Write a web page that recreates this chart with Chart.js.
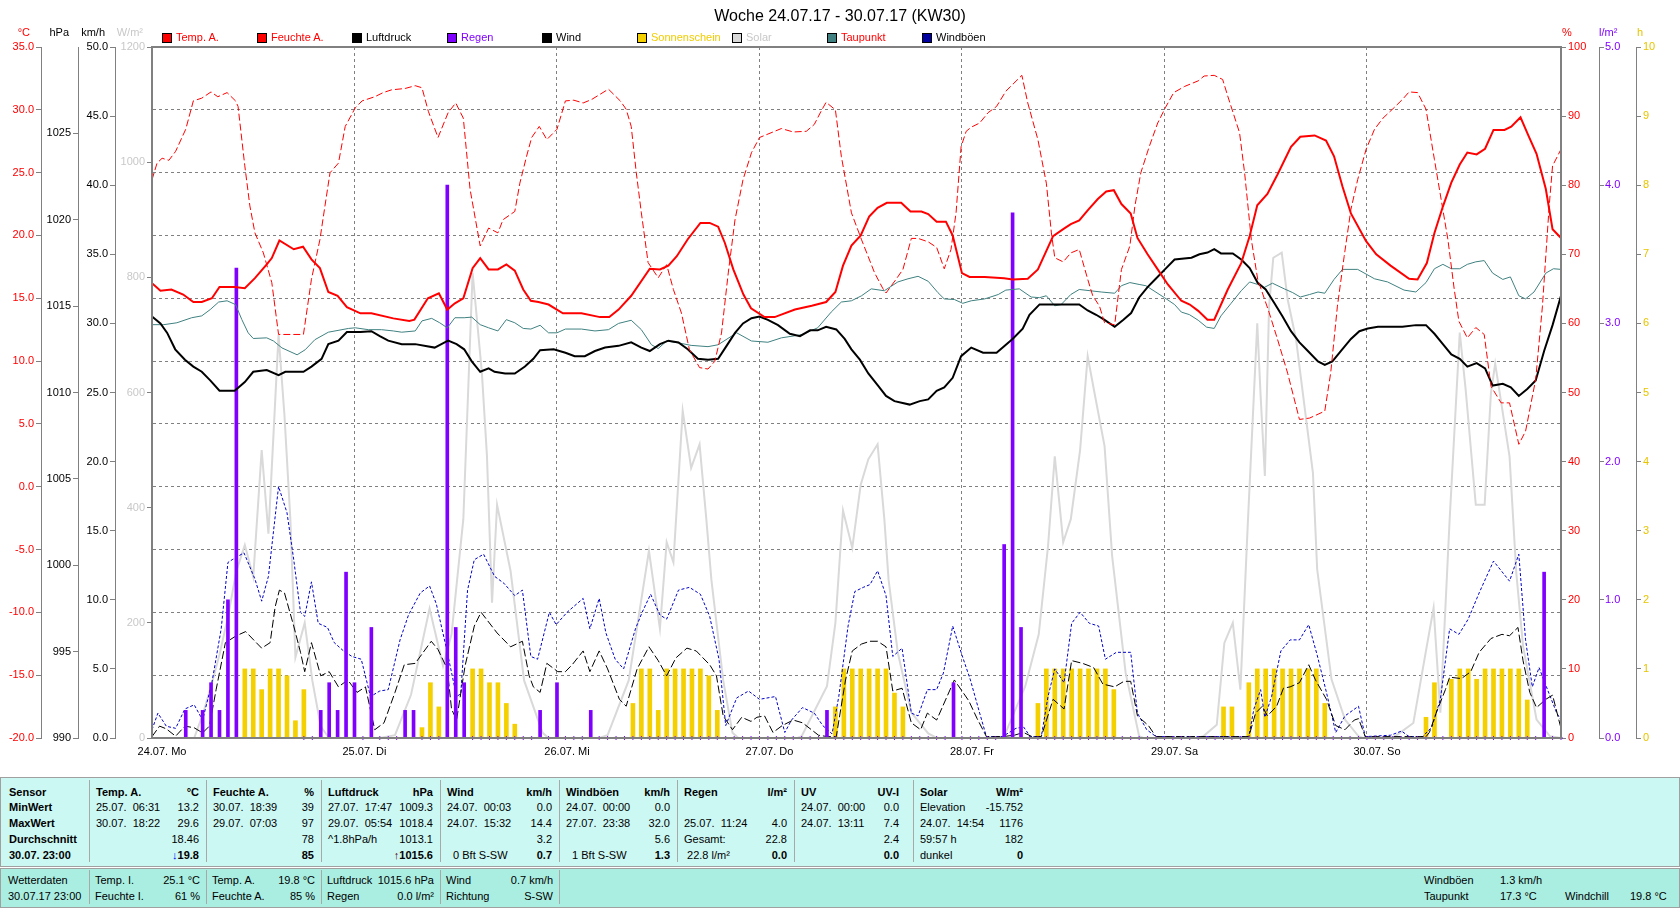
<!DOCTYPE html>
<html><head><meta charset="utf-8">
<script src="https://cdn.jsdelivr.net/npm/chart.js@4.4.1/dist/chart.umd.min.js"></script>
<style>
html,body{margin:0;padding:0;background:#fff;}
body{width:1680px;height:909px;overflow:hidden;position:relative;font-family:"Liberation Sans",Arial,sans-serif;font-size:11px;color:#000;}
#wrap{position:absolute;left:0;top:0;width:1680px;height:760px;}
.abs{position:absolute;white-space:pre;line-height:13px;}
.box{position:absolute;width:8px;height:8px;border:1px solid #000;}
.panel{position:absolute;left:0;width:1678px;border:1px solid #a0a0a0;}
.sep{position:absolute;width:1px;background:#a8a8a8;}
b{font-weight:bold;}
</style></head>
<body>
<div id="wrap"><canvas id="c" width="1680" height="760" style="width:1680px;height:760px"></canvas></div>
<div class="abs" id="title" style="left:0;width:1680px;top:7px;text-align:center;font-size:16px;line-height:18px;">Woche 24.07.17 - 30.07.17 (KW30)</div>
<div id="overlay"></div>
<script>
// ---------------- data (hour since 24.07. 00:00, value) ----------------
const dayLabels = ['24.07. Mo','25.07. Di','26.07. Mi','27.07. Do','28.07. Fr','29.07. Sa','30.07. So'];

const tempA = [[0,16.2],[1,15.6],[2.3,15.7],[3.7,15.3],[4.9,14.7],[5.9,14.7],[7.1,15.0],[8,15.9],[9.8,15.9],[11,15.8],[12.2,16.6],[13.6,17.7],[14.2,18.2],[15.1,19.6],[16.8,18.9],[17.9,19.1],[18.9,18.1],[19.9,17.4],[20.9,15.5],[22,15.2],[23.1,14.3],[24.7,13.8],[26,13.8],[28.6,13.4],[30.5,13.2],[31.1,13.3],[32.7,15.0],[34,15.4],[35,14.1],[35.9,14.6],[36.9,15.0],[38,17.4],[38.9,18.2],[39.9,17.3],[41,17.3],[42,17.7],[43,17.2],[44,15.7],[44.9,14.8],[45.8,14.7],[47,14.5],[48.7,13.8],[50.9,13.8],[53.1,13.5],[54.2,13.5],[55.3,14.1],[56.8,15.2],[59,17.35],[60.2,17.3],[61.2,17.6],[62.2,18.35],[63.5,19.7],[65,21.0],[66.1,21.0],[67.1,20.7],[67.9,19.4],[68.9,17.3],[70.1,15.3],[71,14.2],[72.6,13.5],[73.8,13.5],[76.2,14.1],[78.2,14.4],[79.9,14.7],[81,15.5],[81.9,17.6],[82.9,19.2],[84,20.0],[85,21.5],[86,22.2],[87.1,22.6],[88.8,22.6],[89.9,21.9],[91.2,21.9],[92,21.7],[93,21.1],[94.1,21.1],[94.9,20.0],[96,17.0],[96.9,16.7],[98.7,16.7],[101,16.6],[102,16.5],[103.8,16.55],[105,17.3],[106.8,19.95],[108,20.5],[108.9,20.9],[109.9,21.2],[110.9,22.0],[112.1,22.9],[113.1,23.5],[114,23.6],[114.9,22.5],[116,21.75],[116.8,19.8],[118,18.5],[119.2,17.3],[120.4,16.1],[122,14.8],[123,14.5],[124,14.0],[125.1,13.3],[125.9,13.3],[127.5,15.7],[129.1,17.8],[130.1,19.95],[131,22.4],[132.2,23.3],[133.4,24.85],[135,27.05],[136.1,27.85],[137.8,27.96],[139.15,27.55],[140.1,26.3],[141.1,23.9],[142.1,21.75],[143.9,19.55],[145.1,18.5],[146.8,17.6],[149,16.55],[150,16.5],[151.1,17.8],[152,20.2],[153,22.3],[154,24.2],[155,25.65],[155.9,26.6],[157,26.45],[158,26.9],[159,28.4],[160.3,28.4],[161.1,28.65],[162.2,29.4],[163.1,28.0],[164.1,26.5],[165.2,23.7],[166,20.5],[167,19.8]];

const humidity = [[0,80.8],[0.6,83.2],[1.2,83.9],[2,83.6],[2.8,84.9],[4,88.1],[4.9,92.2],[5.9,92.6],[7,93.5],[7.8,92.8],[8.9,93.4],[9.9,92.2],[10.2,91.4],[11,82.8],[11.6,77.0],[12.2,73.1],[13.2,70.2],[14.2,65.9],[15,58.4],[17.95,58.4],[18.9,66.4],[19.9,72.1],[20.5,77.0],[21.1,81.8],[22.1,83.2],[22.9,88.5],[24.1,91.2],[24.9,92.2],[26.4,92.8],[27.4,93.4],[28.4,93.8],[30,94.0],[31.2,94.4],[32,94.1],[32.75,90.7],[33.9,86.9],[35.1,90.5],[36,91.9],[36.9,89.7],[37.7,79.4],[38.9,71.2],[39.9,73.8],[41,73.1],[41.6,75.0],[43,76.2],[43.6,80.3],[44.4,84.2],[45,86.9],[45.9,88.5],[46.8,86.6],[48,88.1],[49,92.2],[50,92.3],[51.1,91.9],[52.1,92.4],[54.1,93.9],[55.5,92.2],[56.2,91.0],[56.8,88.5],[57.4,81.8],[58,76.0],[58.8,68.8],[60,66.6],[61,68.5],[61.8,64.9],[62.75,61.5],[63.7,56.2],[64.9,53.6],[65.9,53.4],[66.7,54.5],[67.5,58.6],[68.3,67.3],[69.1,75.0],[70.05,80.8],[71.05,84.7],[72,86.9],[72.8,87.3],[74.6,88.2],[76,87.7],[77.55,87.8],[78.5,88.8],[79.3,90.7],[79.9,92.0],[81,90.9],[81.7,84.2],[82.9,76.0],[84.1,72.1],[85.65,67.3],[86.6,65.1],[87,64.4],[88.2,66.4],[89,67.8],[90,72.3],[90.8,72.3],[92,71.8],[93,71.0],[93.9,67.9],[94.7,70.7],[95.3,76.0],[95.9,85.6],[96.5,87.8],[97.1,88.4],[98.1,89.0],[99.1,90.5],[100.1,91.4],[101.2,93.6],[103.1,95.9],[103.8,91.9],[105,86.6],[106,80.3],[106.6,73.1],[107,69.5],[108,68.9],[108.9,70.2],[109.9,70.7],[110.9,66.4],[111.5,64.0],[112.3,62.5],[112.9,60.1],[114.1,59.8],[114.9,67.8],[115.9,71.2],[116.5,77.0],[117.2,81.8],[118.2,85.6],[119.2,89.0],[120.1,91.2],[121.1,93.4],[122.4,94.3],[124,95.1],[124.7,95.8],[125.9,95.9],[126.9,95.3],[127.5,92.9],[128.9,87.6],[129.5,81.8],[130.3,72.1],[131.05,66.4],[132.4,61.6],[133.4,57.7],[134.6,52.8],[136,46.1],[137.2,46.3],[139,47.3],[139.7,52.8],[140.5,62.5],[141.3,69.7],[142.1,76.5],[142.9,80.8],[143.9,85.2],[144.9,88.1],[145.9,89.7],[147.2,91.2],[148.2,92.4],[149,93.5],[150,93.4],[151,91.0],[152,83.7],[152.8,77.9],[153.6,72.1],[154.35,64.9],[154.9,60.3],[155.9,57.9],[156.9,59.4],[157.9,58.4],[158.7,50.9],[159.9,48.5],[160.9,48.5],[162,42.5],[162.8,44.4],[164,51.9],[164.8,62.5],[165.6,77.0],[166,82.8],[167,85.2]];

const pressure = [[0,1014.4],[1,1014.0],[1.8,1013.45],[2.75,1012.5],[3.9,1011.9],[4.9,1011.5],[5.9,1011.2],[6.9,1010.7],[8,1010.1],[9.8,1010.1],[11,1010.6],[12,1011.2],[13.6,1011.3],[15,1011.0],[15.8,1011.2],[17.95,1011.2],[18.9,1011.5],[20.1,1011.95],[20.9,1012.8],[22.1,1013.0],[23.1,1013.5],[24.7,1013.5],[26,1013.55],[27,1013.26],[28,1013.0],[29.6,1012.8],[31.2,1012.8],[33.5,1012.6],[34.3,1012.8],[35.1,1013.0],[36.1,1012.8],[37,1012.5],[37.9,1011.8],[38.9,1011.2],[39.9,1011.4],[40.6,1011.2],[41.85,1011.1],[43,1011.1],[44.2,1011.5],[45.2,1011.95],[46,1012.45],[47.6,1012.5],[49,1012.3],[50.1,1012.1],[51.3,1012.1],[52.5,1012.4],[53.7,1012.6],[55.3,1012.7],[56.8,1012.9],[58,1012.6],[59,1012.4],[60.2,1012.8],[61.2,1013.0],[62.4,1012.9],[63.5,1012.5],[64.7,1011.95],[65.9,1011.9],[67.1,1011.95],[68.1,1012.7],[69.1,1013.45],[70.05,1014.0],[71.05,1014.3],[72,1014.4],[73,1014.2],[74.2,1013.9],[75.6,1013.4],[76.8,1013.26],[78,1013.6],[78.9,1013.6],[79.9,1013.8],[81.1,1013.65],[82.1,1013.1],[82.9,1012.5],[83.9,1011.9],[84.9,1011.1],[86.05,1010.4],[87,1009.8],[88,1009.5],[89.8,1009.3],[91,1009.5],[92,1009.6],[93,1010.1],[93.9,1010.3],[94.9,1010.85],[95.9,1012.1],[97.1,1012.6],[98.5,1012.3],[100.1,1012.3],[102,1013.1],[103.2,1013.7],[104,1014.5],[105.2,1015.1],[109.9,1015.1],[110.9,1014.75],[111.9,1014.5],[112.9,1014.2],[114.1,1013.8],[115.1,1014.2],[116.05,1014.6],[117,1015.5],[118,1016.1],[119,1016.6],[120.2,1017.2],[121.2,1017.7],[123.2,1017.8],[124.15,1018.0],[125.1,1018.1],[125.9,1018.3],[126.7,1018.05],[128.1,1018.05],[129.1,1017.7],[130.1,1017.2],[131.05,1016.35],[132,1015.96],[133,1015.2],[134,1014.4],[135,1013.55],[136,1012.9],[137,1012.4],[138.2,1011.8],[139,1011.6],[139.9,1011.8],[140.9,1012.4],[142.1,1013.1],[143.1,1013.55],[144.1,1013.7],[145.3,1013.8],[148.2,1013.8],[149.8,1013.9],[151,1013.9],[152,1013.4],[153,1012.8],[154,1012.2],[155,1011.95],[155.9,1011.5],[157,1011.7],[158,1011.4],[158.9,1010.4],[160.1,1010.5],[161.05,1010.3],[162,1009.8],[163,1010.2],[164,1010.7],[165,1012.4],[166,1013.9],[167,1015.6]];

const dewPoint = [[0,12.9],[1.4,12.9],[2.95,13.05],[4.7,13.45],[5.9,13.6],[6.9,14.1],[7.9,14.7],[8.9,14.8],[9.9,14.5],[10.65,13.3],[11.4,12.25],[12,11.8],[13.6,11.85],[14.4,11.6],[15.4,11.05],[17.2,10.5],[18.15,10.9],[19.3,11.7],[20.9,12.3],[23.3,12.6],[24.1,12.65],[25.65,12.5],[27.2,12.5],[28.6,12.4],[29.6,12.3],[31.2,12.4],[32,13.2],[33.15,13.4],[34.1,13.05],[35,12.65],[35.9,13.45],[37,13.45],[37.9,13.5],[38.9,12.9],[39.9,12.65],[41,12.4],[42,13.3],[43,13.05],[44,12.6],[44.9,12.55],[46,12.85],[47,12.25],[48,12.25],[49,12.55],[50.9,12.55],[52.5,12.4],[54.1,12.5],[55.3,13.0],[56.8,13.25],[58,12.5],[59.2,11.3],[60,11.0],[61,11.6],[62.4,11.45],[63.9,11.25],[65.9,11.15],[67.1,11.3],[69.3,12.25],[71.05,11.6],[73,11.5],[74.6,11.85],[77,12.1],[78.9,12.65],[80.5,13.9],[81.7,14.7],[82.9,14.8],[84.1,15.2],[85.25,15.75],[86.8,15.6],[88.4,16.3],[89.6,16.55],[90.8,16.75],[92,16.35],[93.15,15.45],[93.9,14.95],[95.1,14.9],[96.1,14.6],[97.1,14.8],[98.7,14.95],[100.3,15.3],[101.2,15.65],[102.8,15.75],[104.2,15.1],[105.2,15.05],[106,15.2],[107,14.4],[107.75,14.5],[108.9,15.3],[109.9,15.7],[112.5,15.5],[114.1,15.4],[114.9,16.0],[115.9,16.25],[117,16.1],[117.8,16.0],[120,15.05],[121.2,14.5],[122,13.9],[122.95,13.7],[124,13.25],[125,12.7],[125.9,12.6],[126.7,13.6],[127.9,14.6],[129.1,15.6],[130.1,16.3],[131.05,16.1],[131.8,15.85],[132.8,16.2],[134.2,15.75],[135.2,15.45],[136.1,15.1],[137.2,15.3],[138.2,15.5],[139,15.4],[140.1,16.5],[141.1,17.3],[142.9,17.3],[144.9,16.55],[146.45,16.3],[148.4,15.65],[149.8,15.5],[151,16.25],[152,17.35],[153,17.7],[154,17.35],[155,17.35],[155.9,17.7],[156.9,17.9],[157.9,18.0],[158.9,17.0],[160.1,16.5],[161,16.7],[162,15.2],[162.8,14.95],[163.8,15.5],[165.2,17.0],[166.1,17.35],[167,17.3]];

const wind = [[0,0.1],[0.9,0.86],[1.7,0.66],[2.8,0.13],[3.9,0.86],[5,0.74],[6,0.37],[6.8,0.86],[7.6,3.5],[8.7,6.9],[10,7.4],[11.1,7.7],[12.2,7.0],[13,6.5],[14,6.9],[14.6,9.5],[15.1,10.7],[15.7,10.5],[16.8,8.1],[17.6,6.2],[18.1,4.8],[18.9,6.9],[20,4.5],[21,4.8],[22.1,3.7],[23.2,4.2],[24.3,3.3],[25.3,3.7],[26.4,0.6],[27.5,1.1],[28.8,3.3],[29.9,5.3],[31.2,5.4],[33.1,7.0],[33.9,6.4],[35,5.0],[35.5,2.1],[36.1,1.3],[37.1,5.2],[38.2,8.1],[39,9.1],[40.9,7.6],[42.5,6.6],[43.9,7.0],[44.7,4.5],[45.2,3.7],[46,3.3],[46.8,5.4],[48.1,4.8],[49,4.8],[49.8,5.3],[51.1,6.3],[51.9,4.8],[53,6.3],[54,5.0],[55.4,2.8],[56.2,2.3],[57.5,5.0],[58.9,6.6],[60,5.6],[61,4.5],[62.1,5.8],[63.4,6.5],[64.5,6.3],[66.1,5.3],[66.9,4.5],[67.7,1.6],[68.8,0.6],[69.9,1.5],[71,1.2],[71.7,1.5],[72.6,1.6],[73.6,0.4],[74.7,0.9],[76,1.3],[77.1,1.1],[79,0.2],[80.1,0.1],[81.1,0.1],[82.2,4.2],[83,6.3],[84.1,6.8],[85.1,7.0],[86,7.0],[87,6.6],[87.8,3.4],[88.9,3.6],[90,1.1],[91.1,0.6],[91.9,1.8],[93,1.3],[95.1,4.2],[96.8,2.7],[97.8,1.4],[98.9,0.1],[100.8,0.1],[102.2,0.2],[103.3,0.4],[104.3,0.1],[105.4,0.1],[106.8,2.8],[108.1,2.1],[109,5.6],[110.3,5.4],[111.6,5.1],[112.7,3.9],[114.1,3.7],[115.2,4.1],[116,4.1],[116.8,1.6],[118.1,0.9],[119,0.1],[130,0.1],[130.8,1.8],[131.6,2.3],[132.2,1.6],[133.3,2.3],[134.1,3.6],[134.9,3.7],[136,4.0],[137.1,5.3],[137.9,4.2],[139.2,2.8],[140.3,0.9],[141.4,0.6],[142.5,1.3],[143,1.4],[143.8,0.1],[151,0.1],[151.4,0.4],[152.2,1.8],[153.3,3.5],[153.8,4.4],[155.2,4.3],[156.3,4.8],[157.3,6.2],[158.7,7.2],[160,7.5],[160.9,7.4],[161.9,8.0],[162.5,5.6],[163.3,3.3],[164.1,2.2],[165.2,2.8],[166,3.1],[167,0.7]];

const gusts = [[0,0.6],[0.7,1.8],[1.7,0.85],[2.8,0.7],[3.9,2.1],[5,2.4],[6,1.3],[7.1,4.0],[8.2,7.9],[9,12.7],[9.5,12.9],[10.9,13.4],[12.2,11.5],[13,9.9],[13.8,11.7],[15,18.2],[16,16.3],[16.8,12.9],[17.6,9.1],[18.1,8.8],[18.9,11.3],[19.7,8.3],[20.8,8.0],[21.6,6.9],[22.7,6.3],[23.7,5.9],[24.8,5.7],[25.9,3.0],[27,3.4],[28,3.5],[29.4,7.1],[30.4,8.9],[31.8,10.5],[32.9,11.0],[33.7,9.7],[35,6.2],[36.1,3.0],[36.6,3.2],[37.4,10.7],[38.2,12.9],[39.3,13.3],[40.6,11.7],[41.7,11.2],[43,10.3],[43.9,10.7],[44.9,5.9],[45.7,5.7],[47.1,9.1],[47.9,8.2],[49.2,9.1],[51.1,10.1],[51.9,7.9],[53,10.1],[53.8,7.6],[54.9,5.7],[55.9,5.0],[57.3,7.9],[58.1,9.1],[59.1,10.4],[60.2,8.9],[61,8.6],[62.4,10.7],[63.7,10.9],[65,10.4],[66.1,8.8],[67.2,5.7],[68,0.9],[69.3,2.9],[70.7,3.4],[72,2.8],[73.9,3.0],[75,0.4],[75.8,1.3],[77.1,2.2],[78.5,1.8],[79.5,0.9],[80.6,0.3],[81.4,3.0],[82.5,8.1],[83.3,10.6],[84.3,10.9],[85.1,11.1],[86,12.1],[87,10.3],[87.8,5.9],[88.9,6.5],[90,1.8],[90.8,1.6],[91.9,3.5],[93,3.5],[93.8,4.7],[94.9,8.1],[96,6.0],[97,4.2],[98.1,1.8],[98.9,0.1],[100.8,0.1],[102.4,0.7],[103.3,0.8],[104.1,0.1],[105.4,0.1],[106.2,3.0],[107,5.0],[108.1,4.0],[109,8.3],[110,9.1],[111.1,8.3],[112.2,8.1],[113,5.7],[114.3,6.2],[116,6.2],[116.8,1.8],[117.9,0.6],[119,0.1],[130,0.1],[130.6,2.1],[131.4,3.5],[131.9,1.5],[132.7,3.0],[133.8,6.3],[134.9,7.1],[136,7.1],[137.1,8.2],[138.1,6.0],[139.2,3.3],[140.3,0.4],[141.4,1.6],[143,2.3],[143.8,0.1],[146.8,0.2],[148.1,0.5],[149,0.1],[150.6,0.1],[151.7,0.8],[152.7,2.8],[153.8,7.9],[154.9,7.5],[156,8.6],[157.3,10.5],[159,12.8],[160.9,11.35],[162,13.3],[162.8,7.1],[163.6,3.7],[164.4,5.1],[165.4,3.5],[166.5,1.8],[167,1.3]];

const solar = [[0,0],[5,0],[6,40],[7,90],[8,145],[9,210],[10,290],[11,335],[12,280],[13,500],[13.8,355],[15,700],[15.7,560],[16.4,380],[17,140],[18.1,200],[19,100],[20,20],[21,0],[27,0],[28.8,5],[30.7,75],[32.9,225],[34.5,125],[35.5,180],[36.9,380],[38,808],[39.1,634],[39.7,490],[40.3,235],[40.9,405],[42.5,290],[44.1,100],[46.3,9],[47,0],[53,0],[54,5],[56.5,100],[58.9,325],[60.2,190],[61,340],[61.8,305],[62.9,568],[63.9,469],[64.9,510],[65.7,380],[66.3,275],[67.7,100],[68.8,9],[69.5,0],[76.5,0],[77,3],[80,90],[81,200],[81.9,395],[83,330],[84,440],[84.9,484],[86,510],[86.8,380],[87.3,275],[88.4,148],[90,44],[92,8],[93,0],[100.5,0],[101,3],[103.5,90],[105.1,180],[106.2,333],[107,489],[108,340],[108.9,380],[110,500],[110.9,663],[111.7,600],[112.9,507],[113.8,316],[115.4,113],[117,3],[117.5,0],[124,0],[124.6,3],[126.2,23],[127.1,165],[128.1,200],[129,84],[129.9,379],[131,720],[131.4,594],[131.9,455],[132.4,750],[132.9,834],[133.9,843],[134.6,762],[135.6,692],[136.6,576],[137.6,460],[138.1,293],[139.8,102],[141.4,32],[143,3],[143.5,0],[147,0],[147.9,9],[149.5,26],[151.1,160],[151.9,226],[152.7,44],[153.8,379],[155,704],[155.7,605],[156.9,405],[157.95,405],[158.7,600],[159.2,650],[160.9,489],[161.7,287],[162.5,160],[164.1,32],[165.7,3],[167,0]];

const rain = [[4,0.2],[6,0.2],[7,0.4],[8,0.2],[9,1.0],[10,3.4],[20,0.2],[21,0.4],[22,0.2],[23,1.2],[24,0.4],[26,0.8],[30,0.2],[31,0.2],[35,4.0],[36,0.8],[37,0.4],[46,0.2],[48,0.4],[52,0.2],[80,0.2],[95,0.4],[101,1.4],[102,3.8],[103,0.8],[165,1.2]];
const rainLoggedFrom = 18, rainLoggedTo = 167;

const sunshine = [[11,1.0],[12,1.0],[13,0.7],[14,1.0],[15,1.0],[16,0.9],[17,0.25],[18,0.7],[32,0.15],[33,0.8],[34,0.45],[38,1.0],[39,1.0],[40,0.8],[41,0.8],[42,0.5],[43,0.2],[57,0.5],[58,1.0],[59,1.0],[60,0.4],[61,1.0],[62,1.0],[63,1.0],[64,1.0],[65,1.0],[66,0.9],[67,0.4],[81,0.45],[82,1.0],[83,1.0],[84,1.0],[85,1.0],[86,1.0],[87,1.0],[88,0.65],[89,0.45],[105,0.5],[106,1.0],[107,1.0],[108,1.0],[109,1.0],[110,1.0],[111,1.0],[112,1.0],[113,1.0],[114,0.7],[127,0.45],[128,0.45],[130,0.8],[131,1.0],[132,1.0],[133,1.0],[134,1.0],[135,1.0],[136,1.0],[137,1.0],[138,1.0],[139,0.5],[151,0.3],[152,0.8],[154,0.85],[155,1.0],[156,1.0],[157,0.85],[158,1.0],[159,1.0],[160,1.0],[161,1.0],[162,1.0],[163,0.55]];

// legend & table content
const legendItems = [['Temp. A.','#ff0000','#ff0000'],['Feuchte A.','#ff0000','#ff0000'],['Luftdruck','#000000','#000000'],['Regen','#8000ff','#8000ff'],['Wind','#000000','#000000'],['Sonnenschein','#f5d000','#f0cc00'],['Solar','#d8d8d8','#c8c8c8'],['Taupunkt','#408080','#ff0000'],['Windböen','#0000a0','#000000']];
const unitLabels = [['°C','#ff0000',30,'r'],['hPa','#000',69,'r'],['km/h','#000',105,'r'],['W/m²','#c8c8c8',143,'r'],['%','#ff0000',1562,'l'],['l/m²','#8000ff',1599,'l'],['h','#e8c400',1637,'l']];

const statCols = [
 [0,89,[['Sensor',''],['MinWert',''],['MaxWert',''],['Durchschnitt',''],['30.07. 23:00','']]],
 [89,206,[['Temp. A.','°C'],['25.07.  06:31','13.2'],['30.07.  18:22','29.6'],['','18.46'],['','<span style="color:#0000ff">↓</span>19.8']]],
 [206,321,[['Feuchte A.','%'],['30.07.  18:39','39'],['29.07.  07:03','97'],['','78'],['','85']]],
 [321,440,[['Luftdruck','hPa'],['27.07.  17:47','1009.3'],['29.07.  05:54','1018.4'],['^1.8hPa/h','1013.1'],['','<span style="color:#500000">↑</span>1015.6']]],
 [440,559,[['Wind','km/h'],['24.07.  00:03','0.0'],['24.07.  15:32','14.4'],['','3.2'],['  0 Bft S-SW','0.7']]],
 [559,677,[['Windböen','km/h'],['24.07.  00:00','0.0'],['27.07.  23:38','32.0'],['','5.6'],['  1 Bft S-SW','1.3']]],
 [677,794,[['Regen','l/m²'],['',''],['25.07.  11:24','4.0'],['Gesamt:','22.8'],[' 22.8 l/m²','0.0']]],
 [794,913,[['UV','UV-I'],['24.07.  00:00','0.0'],['24.07.  13:11','7.4'],['','2.4'],['','0.0']]],
 [913,1030,[['Solar','W/m²'],['Elevation','-15.752'],['24.07.  14:54','1176'],['59:57 h','182'],['dunkel','0']]]
];
const nowCols = [
 [0,89,[['Wetterdaten',''],['30.07.17 23:00','']]],
 [89,206,[['Temp. I.','25.1 °C'],['Feuchte I.','61 %']]],
 [206,321,[['Temp. A.','19.8 °C'],['Feuchte A.','85 %']]],
 [321,440,[['Luftdruck','1015.6 hPa'],['Regen','0.0 l/m²']]],
 [440,559,[['Wind','0.7 km/h'],['Richtung','S-SW']]]
];
const nowRight = [['Windböen',1424,0],['1.3 km/h',1500,0],['Taupunkt',1424,1],['17.3 °C',1500,1],['Windchill',1565,1],['19.8 °C',1630,1]];

// ---------------- overlay text (legend, units, table) ----------------
const ov = document.getElementById('overlay');
function add(html, css){ const d=document.createElement('div'); d.className='abs'; d.innerHTML=html; Object.assign(d.style, css); ov.appendChild(d); return d; }
legendItems.forEach(([name, boxCol, txtCol], i) => {
  const x = 162 + 95*i;
  const b = document.createElement('div'); b.className='box'; Object.assign(b.style,{left:x+'px',top:'33px',background:boxCol}); ov.appendChild(b);
  add(name,{left:(x+14)+'px',top:'31px',color:txtCol});
});
unitLabels.forEach(([t,c,x,side]) => {
  if (side==='r') add(t,{left:(x-60)+'px',width:'60px',textAlign:'right',top:'26px',color:c});
  else add(t,{left:x+'px',top:'26px',color:c});
});
function panel(top,h,bg){ const p=document.createElement('div'); p.className='panel'; Object.assign(p.style,{top:top+'px',height:h+'px',background:bg}); ov.appendChild(p); }
function sep(x,top,h){ const s=document.createElement('div'); s.className='sep'; Object.assign(s.style,{left:x+'px',top:top+'px',height:h+'px'}); ov.appendChild(s); }
panel(777,88,'#ccf8f4');
panel(868,38,'#aaeee2');
const rowY = [786,801,817,833,849];
statCols.forEach(([x0,x1,rows],ci) => {
  if (ci>0) sep(x0,780,82);
  const rin = ci===7 ? 14 : 7;
  rows.forEach(([l,r],ri) => {
    const boldL = ci===0 || ri===0;
    const boldR = ri===0 || ri===4;
    if (l) add(boldL?'<b>'+l+'</b>':l,{left:(x0+(ci===0?9:7))+'px',top:rowY[ri]+'px'});
    if (r) add(boldR?'<b>'+r+'</b>':r,{left:(x1-rin-100)+'px',width:'100px',textAlign:'right',top:rowY[ri]+'px'});
  });
});
const nowY = [874,890];
nowCols.forEach(([x0,x1,rows],ci) => {
  if (ci>0) sep(x0,870,34);
  rows.forEach(([l,r],ri) => {
    if (l) add(l,{left:(x0+(ci===0?8:6))+'px',top:nowY[ri]+'px'});
    if (r) add(r,{left:(x1-6-100)+'px',width:'100px',textAlign:'right',top:nowY[ri]+'px'});
  });
});
sep(559,870,34);
nowRight.forEach(([t,x,ri]) => add(t,{left:x+'px',top:nowY[ri]+'px'}));

// ---------------- chart ----------------
Chart.defaults.font.family = '"Liberation Sans", Arial, sans-serif';
Chart.defaults.font.size = 11;
const pts = a => a.map(([x,y]) => ({x,y}));
const rainHours = new Set(rain.map(r => r[0]));
const rainZero = [];
for (let h = rainLoggedFrom; h <= rainLoggedTo; h++) if (!rainHours.has(h)) rainZero.push({x:h, y:0});

const GRID = '#808080';
function yAxis(o){
  return Object.assign({
    type:'linear',
    ticks:{padding:2, autoSkip:false, font:{size:11}},
    grid:{drawOnChartArea:false, drawTicks:true, tickLength:5, tickColor:GRID, color:GRID},
    border:{display:true, color:GRID, width:1}
  }, o);
}
const framePlugin = {id:'frame', afterDatasetsDraw(chart){
  const {ctx, chartArea:a} = chart;
  ctx.save(); ctx.strokeStyle = GRID; ctx.lineWidth = 2;
  ctx.strokeRect(a.left, a.top, a.right-a.left, a.bottom-a.top);
  ctx.restore();
}};

new Chart(document.getElementById('c'), {
  type:'line',
  plugins:[framePlugin],
  data:{datasets:[
    {label:'Temp. A.', data:pts(tempA), yAxisID:'yT', borderColor:'#ff0000', borderWidth:2, order:1},
    {label:'Feuchte A.', data:pts(humidity), yAxisID:'yH', borderColor:'#ff0000', borderWidth:1, borderDash:[7,3], order:2},
    {label:'Luftdruck', data:pts(pressure), yAxisID:'yP', borderColor:'#000000', borderWidth:2, order:3},
    {label:'Taupunkt', data:pts(dewPoint), yAxisID:'yT', borderColor:'#408080', borderWidth:1, order:4},
    {type:'bar', label:'Regen', data:pts(rain), yAxisID:'yR', backgroundColor:'#8000ff', barThickness:3, grouped:false, order:5},
    {label:'Regen 0', data:rainZero, yAxisID:'yR', showLine:false, pointStyle:'cross', pointRadius:2, pointBorderWidth:1, borderColor:'#8000ff', clip:false, order:5},
    {label:'Wind', data:pts(wind), yAxisID:'yW', borderColor:'#000000', borderWidth:1, borderDash:[8,3], order:6},
    {label:'Windböen', data:pts(gusts), yAxisID:'yW', borderColor:'#0000c8', borderWidth:1, borderDash:[3,2], order:7},
    {type:'bar', label:'Sonnenschein', data:pts(sunshine), yAxisID:'ySun', backgroundColor:'#f5d000', barThickness:4, grouped:false, order:8},
    {label:'Solar', data:pts(solar), yAxisID:'yS', borderColor:'#d9d9d9', borderWidth:2, order:9}
  ]},
  options:{
    responsive:false, animation:false, devicePixelRatio:1,
    layout:{padding:{top:47,left:0,right:0,bottom:0}},
    plugins:{legend:{display:false}, tooltip:{enabled:false}, title:{display:false}},
    elements:{point:{radius:0, hoverRadius:0}, line:{tension:0, fill:false}},
    events:[],
    scales:{
      x:{type:'linear', position:'bottom', min:0, max:167, offset:false,
         grid:{offset:false, color:GRID, drawTicks:false, lineWidth:1},
         border:{display:false, dash:[3,3]},
         ticks:{stepSize:24, includeBounds:false, autoSkip:false, maxRotation:0, minRotation:0, padding:7, labelOffset:10, color:'#000',
                callback:v => dayLabels[v/24] ?? ''},
         afterFit:s => { s.height = 22; }},
      yT: yAxis({position:'left', weight:4, min:-20, max:35,
         ticks:{stepSize:5, padding:2, color:'#ff0000', callback:v => v.toFixed(1)},
         grid:{drawOnChartArea:true, drawTicks:true, tickLength:5, tickColor:GRID, color:GRID, lineWidth:1},
         border:{display:true, color:GRID, width:1, dash:[3,3]},
         afterFit:s => { s.width = 41; }}),
      yP: yAxis({position:'left', weight:3, min:990, max:1030,
         ticks:{stepSize:5, padding:2, color:'#000', callback:v => v===1030 ? '' : String(v)},
         grid:{drawOnChartArea:false, drawTicks:true, tickLength:5, color:GRID, tickColor:c => (c.tick && c.tick.value===1030) ? 'rgba(0,0,0,0)' : GRID},
         afterFit:s => { s.width = 37; }}),
      yW: yAxis({position:'left', weight:2, min:0, max:50,
         ticks:{stepSize:5, padding:2, color:'#000', callback:v => v.toFixed(1)},
         afterFit:s => { s.width = 37; }}),
      yS: yAxis({position:'left', weight:1, min:0, max:1200,
         ticks:{stepSize:200, padding:2, color:'#c8c8c8', callback:v => String(v)},
         border:{display:false},
         afterFit:s => { s.width = 37; }}),
      yH: yAxis({position:'right', weight:1, min:0, max:100,
         ticks:{stepSize:10, padding:2, color:'#ff0000', callback:v => String(v)},
         border:{display:false},
         afterFit:s => { s.width = 38; }}),
      yR: yAxis({position:'right', weight:2, min:0, max:5,
         ticks:{stepSize:1, padding:1, color:'#8000ff', callback:v => v.toFixed(1)},
         afterFit:s => { s.width = 37; }}),
      ySun: yAxis({position:'right', weight:3, min:0, max:10,
         ticks:{stepSize:1, padding:2, color:'#e8c400', callback:v => String(v)},
         afterFit:s => { s.width = 44; }})
    }
  }
});
</script>
</body></html>
